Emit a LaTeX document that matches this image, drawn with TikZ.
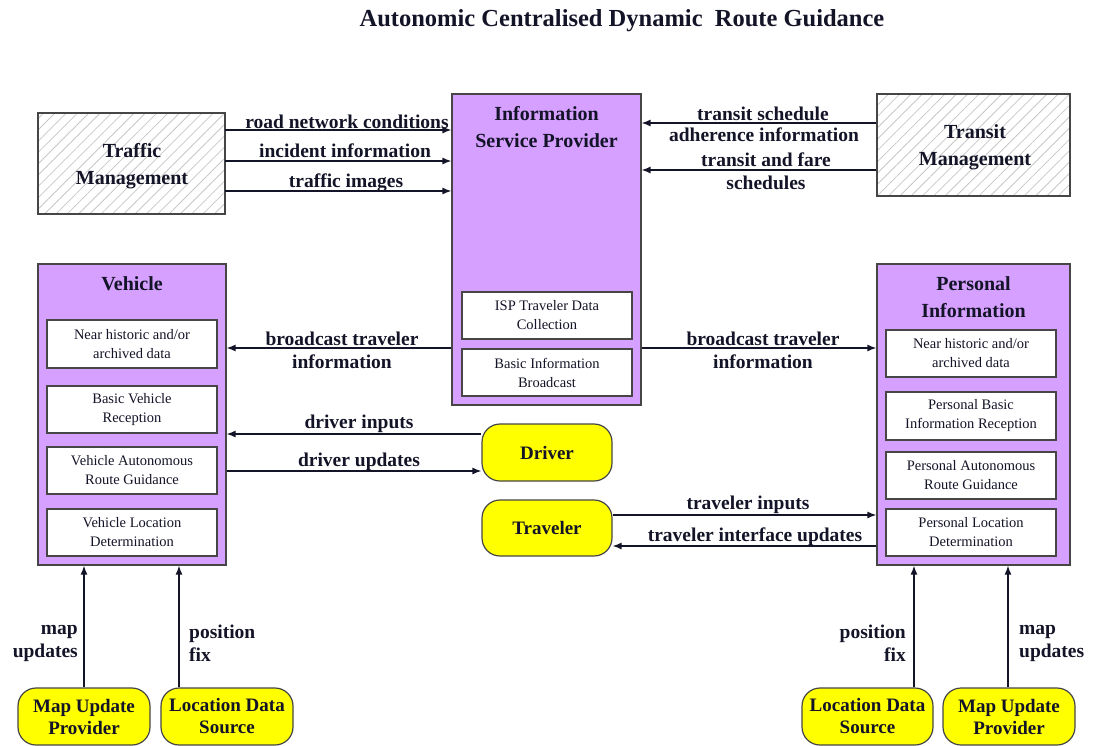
\documentclass[tikz,border=0pt]{standalone}
\usepackage{fontspec}
\setmainfont{Liberation Serif}
\usetikzlibrary{arrows.meta,patterns.meta}
\definecolor{boxpurple}{RGB}{213,160,255}
\definecolor{boxyellow}{RGB}{255,255,0}
\definecolor{inkc}{RGB}{20,20,40}
\definecolor{edgec}{RGB}{70,70,70}
\tikzset{
  bigbox/.style={draw=edgec, line width=1.2pt, fill=boxpurple, minimum width=#1, inner sep=0pt},
  hatchbox/.style={draw=edgec, line width=1.2pt, pattern={Lines[angle=45,distance=8pt,line width=0.8pt]}, pattern color=black!22, inner sep=0pt},
  subbox/.style={draw=edgec, line width=1.2pt, fill=white, minimum width=170pt, inner sep=0pt, font=\fontsize{14.5}{19}\selectfont, text=inkc, align=center},
  actor/.style={draw=edgec, line width=1.2pt, fill=boxyellow, rounded corners=18pt, inner sep=0pt, font=\fontsize{19}{22}\selectfont\bfseries, text=inkc, align=center},
  boxtitle/.style={font=\fontsize{20}{27}\selectfont\bfseries, text=inkc, align=center, inner sep=0pt},
  lbl/.style={font=\fontsize{19.5}{23}\selectfont\bfseries, text=inkc, align=center, inner sep=0pt},
  arr/.style={draw=inkc, line width=1.3pt, -{Latex[length=9pt,width=7pt]}},
}
\begin{document}
\begin{tikzpicture}[x=1pt,y=-1pt]
\useasboundingbox (0,0) rectangle (1093,745);

% title
\node[font=\fontsize{24.5}{28}\selectfont\bfseries, text=inkc, inner sep=0pt] (title) at (622,21) {Autonomic Centralised Dynamic\ \ Route Guidance};

% top boxes
\node[hatchbox, minimum width=187pt, minimum height=101pt] (tm) at (131.5,163.5) {};
\node[boxtitle] (tmtxt) at (132,166) {Traffic\\Management};
\node[hatchbox, minimum width=193pt, minimum height=102pt] (trm) at (973.5,145) {};
\node[boxtitle] (trmtxt) at (975,147.5) {Transit\\Management};

% ISP
\node[bigbox=189pt, minimum height=311pt] (isp) at (546.5,249.5) {};
\node[boxtitle] (isptitle) at (546.5,127.5) {Information\\Service Provider};
\node[subbox, minimum height=47pt] (isp1) at (547,315.5) {ISP Traveler Data\\Collection};
\node[subbox, minimum height=47pt] (isp2) at (547,372.5) {Basic Information\\Broadcast};

% Vehicle
\node[bigbox=188pt, minimum height=301pt] (veh) at (132,414.5) {};
\node[boxtitle] (vehtitle) at (132,284) {Vehicle};
\node[subbox, minimum height=48pt] (v1) at (132,344) {Near historic and/or\\archived data};
\node[subbox, minimum height=47pt] (v2) at (132,409.5) {Basic Vehicle\\Reception};
\node[subbox, minimum height=47pt] (v3) at (132,470.5) {Vehicle Autonomous\\Route Guidance};
\node[subbox, minimum height=47pt] (v4) at (132,532.5) {Vehicle Location\\Determination};

% Personal Information
\node[bigbox=193pt, minimum height=301pt] (pi) at (973.5,414.5) {};
\node[boxtitle] (pititle) at (973.5,297.5) {Personal\\Information};
\node[subbox, minimum height=47pt] (p1) at (971,353.5) {Near historic and/or\\archived data};
\node[subbox, minimum height=48pt] (p2) at (971,416) {Personal Basic\\Information Reception};
\node[subbox, minimum height=47pt] (p3) at (971,475.5) {Personal Autonomous\\Route Guidance};
\node[subbox, minimum height=47pt] (p4) at (971,532.5) {Personal Location\\Determination};

% actors
\node[actor, minimum width=130pt, minimum height=57pt] (drv) at (547,452.5) {Driver};
\node[actor, minimum width=130pt, minimum height=56pt] (trv) at (547,528) {Traveler};
\node[actor, minimum width=132pt, minimum height=57pt] (mupl) at (84,716.5) {Map Update\\Provider};
\node[actor, minimum width=132pt, minimum height=57pt] (ldsl) at (227,716.5) {Location Data\\Source};
\node[actor, minimum width=131pt, minimum height=57pt] (ldsr) at (867.5,716.5) {Location Data\\Source};
\node[actor, minimum width=132pt, minimum height=57pt] (mupr) at (1009,716.5) {Map Update\\Provider};

% traffic management -> ISP
\draw[arr] (tm.east |- 0,130) -- (isp.west |- 0,130);
\draw[arr] (tm.east |- 0,161) -- (isp.west |- 0,161);
\draw[arr] (tm.east |- 0,191) -- (isp.west |- 0,191);
\node[lbl] (l1) at (347,122) {road network conditions};
\node[lbl] (l2) at (345,151) {incident information};
\node[lbl] (l3) at (346,183) {traffic images};

% transit -> ISP
\draw[arr] (trm.west |- 0,123) -- (isp.east |- 0,123);
\draw[arr] (trm.west |- 0,170) -- (isp.east |- 0,170);
\node[lbl] (l4) at (763,114) {transit schedule};
\node[lbl] (l5) at (764,135) {adherence information};
\node[lbl] (l6) at (766,160) {transit and fare};
\node[lbl] (l7) at (766,183) {schedules};

% broadcast
\draw[arr] (isp.west |- 0,348) -- (veh.east |- 0,348);
\draw[arr] (isp.east |- 0,348) -- (pi.west |- 0,348);
\node[lbl] (l8) at (342,350) {broadcast traveler\\information};
\node[lbl] (l9) at (763,350) {broadcast traveler\\information};

% driver
\draw[arr] (drv.west |- 0,434) -- (veh.east |- 0,434);
\draw[arr] (veh.east |- 0,471) -- (drv.west |- 0,471);
\node[lbl] (l10) at (359,424) {driver inputs};
\node[lbl] (l11) at (359,462) {driver updates};

% traveler
\draw[arr] (trv.east |- 0,515) -- (pi.west |- 0,515);
\draw[arr] (pi.west |- 0,546) -- (trv.east |- 0,546);
\node[lbl] (l12) at (748,505) {traveler inputs};
\node[lbl] (l13) at (755,537) {traveler interface updates};

% bottom
\draw[arr] (mupl.north) -- (veh.south -| mupl.north);
\draw[arr] (ldsl.north -| 179,0) -- (veh.south -| 179,0);
\draw[arr] (ldsr.north -| 914,0) -- (pi.south -| 914,0);
\draw[arr] (mupr.north -| 1008,0) -- (pi.south -| 1008,0);
\node[lbl, anchor=east, align=right] (l14) at (78,643) {map\\updates};
\node[lbl, anchor=west, align=left] (l15) at (189,643) {position\\fix};
\node[lbl, anchor=east, align=right] (l16) at (906,643) {position\\fix};
\node[lbl, anchor=west, align=left] (l17) at (1019,643) {map\\updates};
\end{tikzpicture}
\end{document}
